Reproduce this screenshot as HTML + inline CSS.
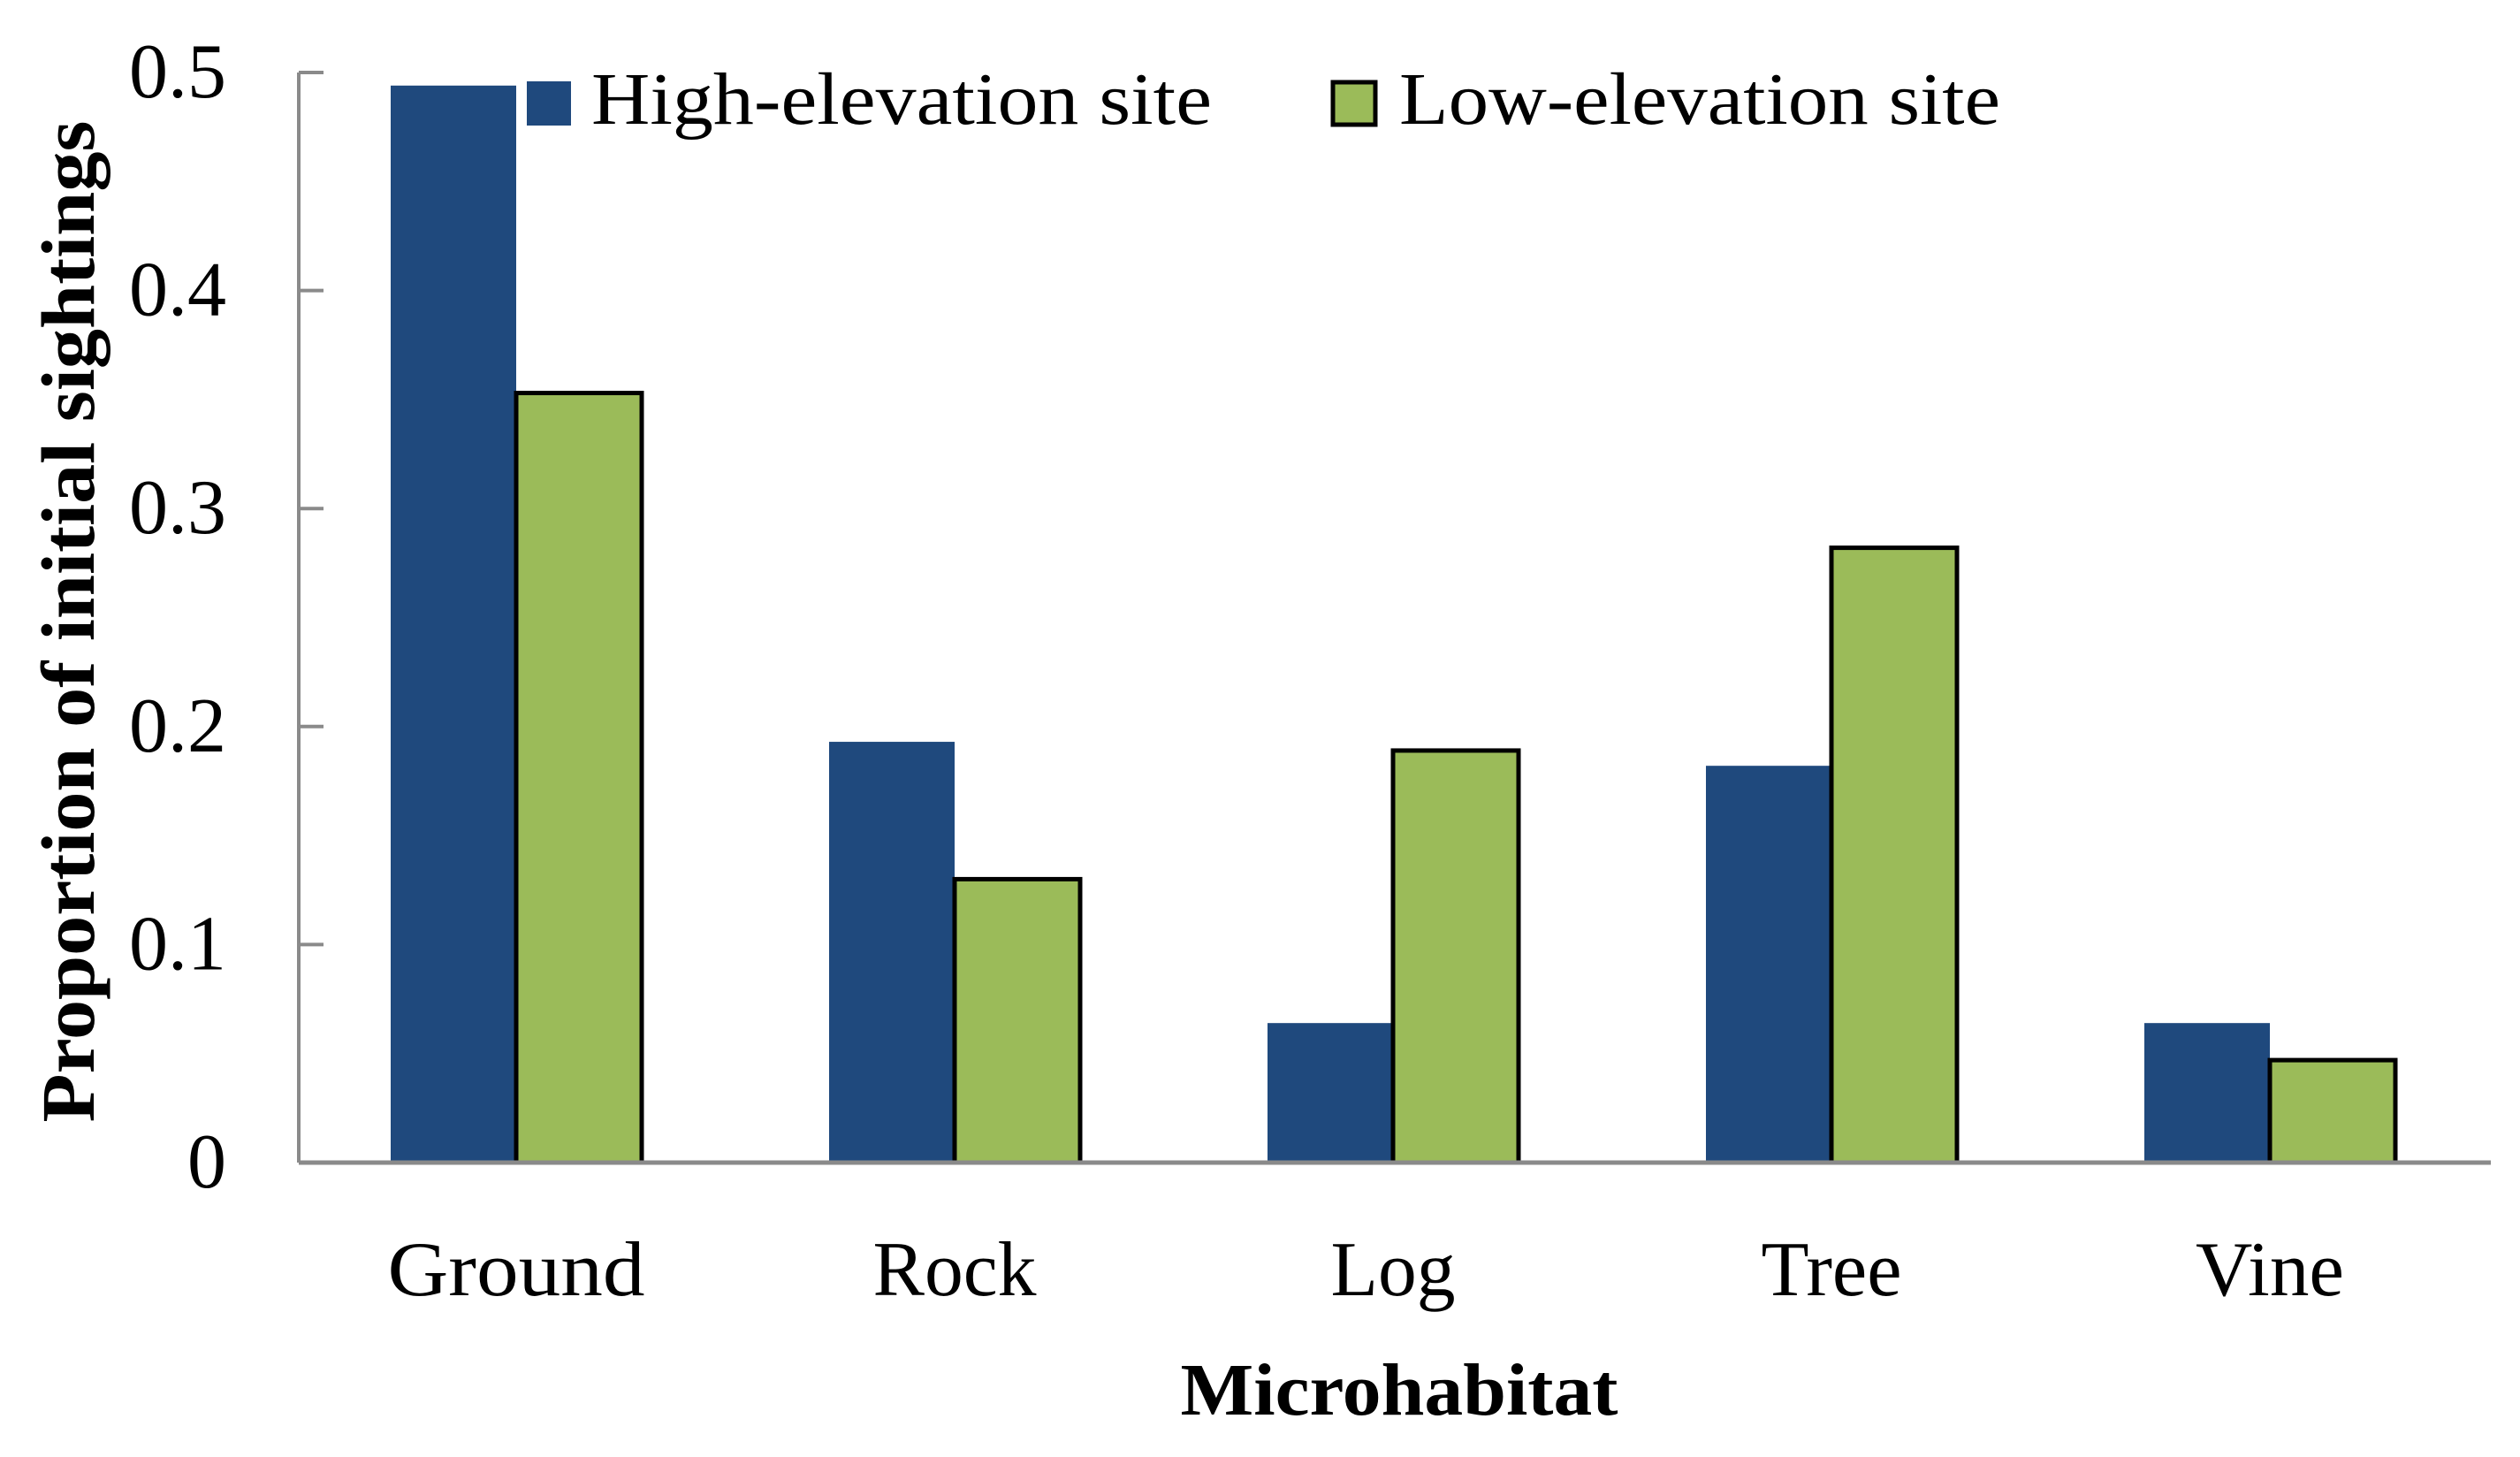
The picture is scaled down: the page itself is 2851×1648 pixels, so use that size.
<!DOCTYPE html>
<html><head><meta charset="utf-8"><style>
html,body{margin:0;padding:0;background:#fff;}
svg{display:block;}
text{font-family:"Liberation Serif",serif;fill:#000;}
</style></head><body>
<svg id="chart" width="2851" height="1648" viewBox="0 0 2851 1648" xmlns="http://www.w3.org/2000/svg">
<g id="bars"></g>
<g id="axes"></g>
<text x="106" y="703" font-size="86" font-weight="bold" text-anchor="middle" textLength="1133" lengthAdjust="spacingAndGlyphs" transform="rotate(-90 106 703)">Proportion of initial sightings</text>
<text x="1583" y="1600" font-size="84" font-weight="bold" text-anchor="middle" textLength="495" lengthAdjust="spacingAndGlyphs">Microhabitat</text>
<g>
<g>
<rect x="596" y="92" width="50" height="50" fill="#1F497D"/>
<text x="669" y="140" font-size="84" textLength="702" lengthAdjust="spacingAndGlyphs">High-elevation site</text>
</g>
<g>
<rect x="1508" y="93" width="48" height="48" fill="#9BBB59" stroke="#000" stroke-width="5"/>
<text x="1583" y="140" font-size="84" textLength="680" lengthAdjust="spacingAndGlyphs">Low-elevation site</text>
</g>
</g>
</svg>
<script>
const categories = ["Ground","Rock","Log","Tree","Vine"];
const highValues = [0.494,0.193,0.064,0.182,0.064];
const lowValues = [0.353,0.130,0.189,0.282,0.047];
const yTicks = [0,0.1,0.2,0.3,0.4,0.5];
const yTickLabels = ["0","0.1","0.2","0.3","0.4","0.5"];
const catLabelWidths = [291,185,141,159,168];

const NS="http://www.w3.org/2000/svg";
const X0=338, X1=2818, Y0=1315, Y1=82, YMAX=0.5;
const C0=584, STEP=496;
const bw=142;
function y(v){return Y0-(v/YMAX)*(Y0-Y1);}
function cx(i){return C0+STEP*i;}
const bars=document.getElementById('bars');
const axes=document.getElementById('axes');
function mk(tag,attrs,parent){const e=document.createElementNS(NS,tag);for(const k in attrs)e.setAttribute(k,attrs[k]);parent.appendChild(e);return e;}

categories.forEach((c,i)=>{
  const h=mk('rect',{x:cx(i)-bw,y:y(highValues[i]),width:bw,height:Y0-y(highValues[i]),fill:'#1F497D'},bars);
  
  
  const l=mk('rect',{x:cx(i),y:y(lowValues[i]),width:bw,height:Y0-y(lowValues[i]),fill:'#9BBB59',stroke:'#000','stroke-width':5},bars);
  
  
  const t=mk('text',{x:cx(i),y:1465,'font-size':88,'text-anchor':'middle',textLength:catLabelWidths[i],lengthAdjust:'spacingAndGlyphs'},axes);
  t.textContent=c;
  
  
});
const ya=mk('line',{x1:X0,y1:Y1,x2:X0,y2:Y0,stroke:'#8a8a8a','stroke-width':4},axes);


const xa=mk('line',{x1:X0,y1:Y0,x2:X1,y2:Y0,stroke:'#8a8a8a','stroke-width':5},axes);


yTicks.forEach((v,i)=>{
  const tk=mk('line',{x1:X0,y1:y(v),x2:X0+28,y2:y(v),stroke:'#8a8a8a','stroke-width':4},axes);
  
  
  const t=mk('text',{x:256,y:y(v)+28,'font-size':88,'text-anchor':'end'},axes);
  t.textContent=yTickLabels[i];
  
  
});
</script>
</body></html>
